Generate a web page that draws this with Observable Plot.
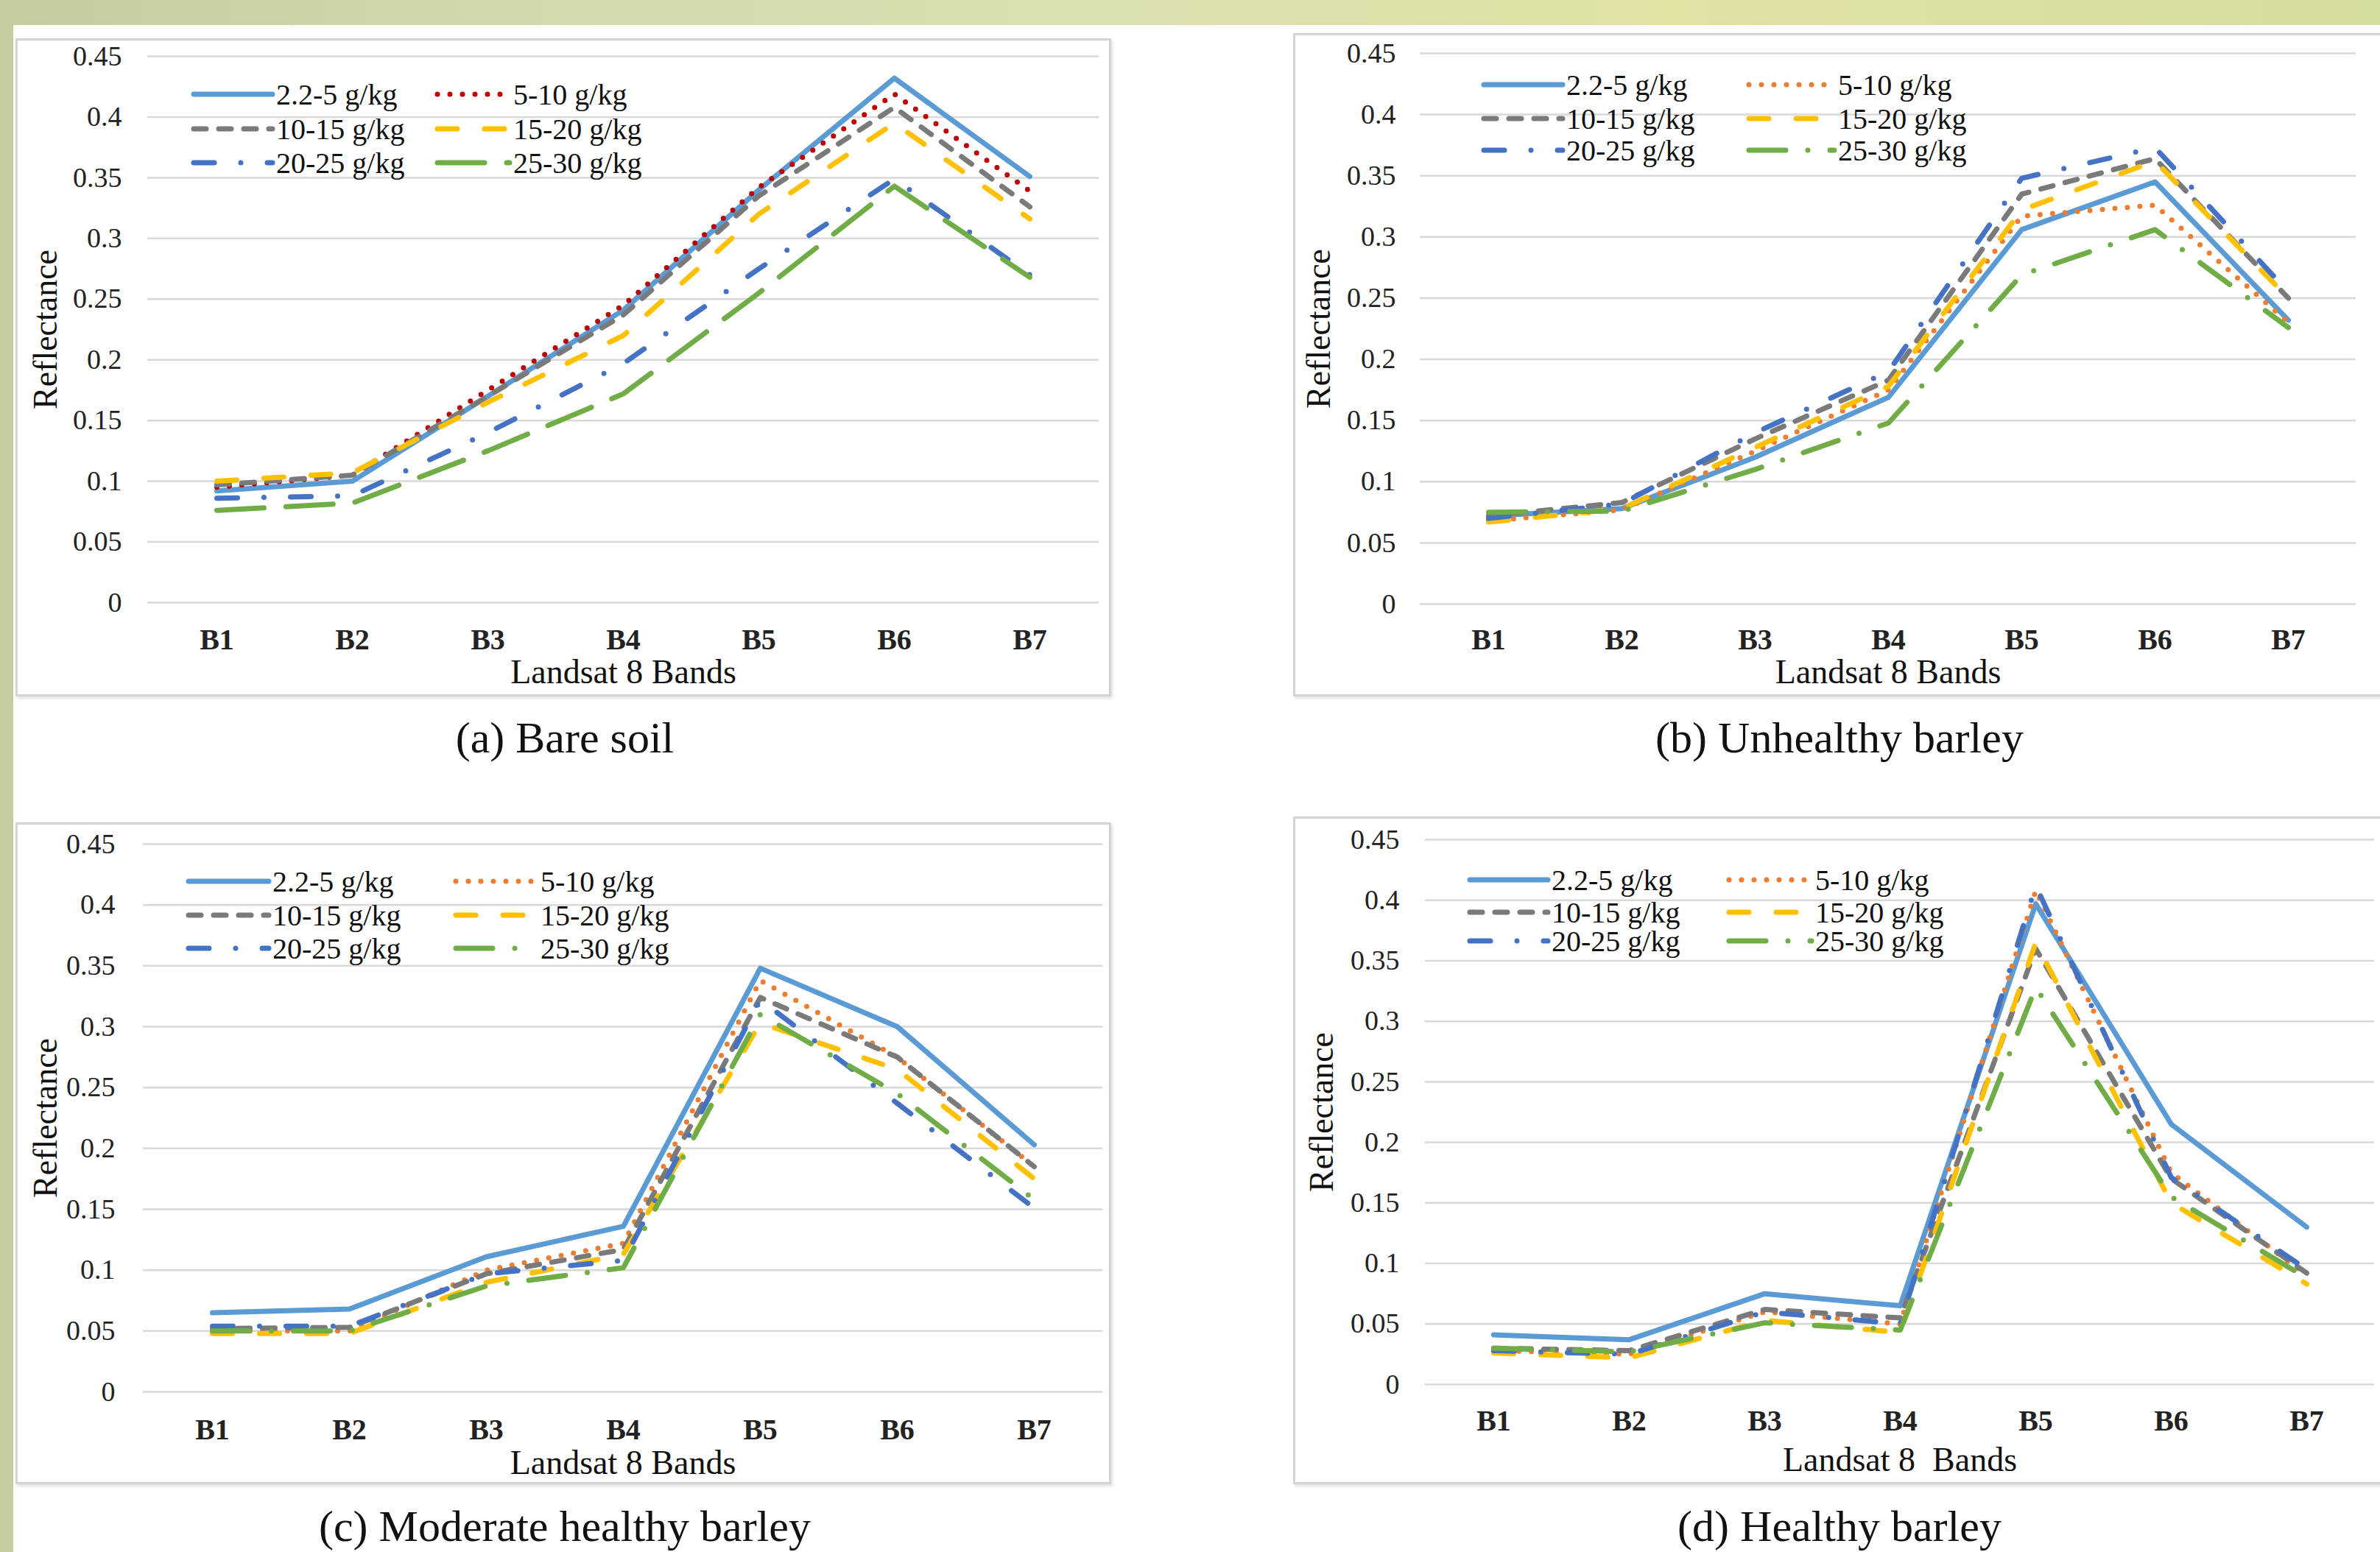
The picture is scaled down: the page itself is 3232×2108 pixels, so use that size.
<!DOCTYPE html>
<html>
<head>
<meta charset="utf-8">
<script src="https://cdn.jsdelivr.net/npm/d3@7"></script>
<script src="https://cdn.jsdelivr.net/npm/@observablehq/plot@0.6"></script>
<style>
html, body { margin: 0; padding: 0; }
body {
  width: 3232px; height: 2108px; overflow: hidden; position: relative;
  background: linear-gradient(90deg, #c6cb9f 0%, #d3d7a9 20%, #dcdfb0 45%, #e0e3a4 70%, #d6dba0 100%);
  font-family: "Liberation Serif", "Times New Roman", serif;
}
#sheet { position: absolute; left: 18px; top: 34px; right: 0; bottom: 0; background: #fff; }
.panel { position: absolute; background: #fff; }
.panel .frame {
  position: absolute; inset: 0; border: 3px solid #d4d4d4; box-sizing: border-box;
  box-shadow: 2px 3px 4px rgba(0,0,0,0.12); pointer-events: none;
}
.panel svg { position: absolute; left: 0; top: 0; }
.caption {
  position: absolute; font-size: 60px; line-height: 60px; white-space: nowrap;
  transform: translateX(-50%); color: #111;
}
.legend-item {
  position: absolute; display: flex; align-items: center; height: 46px;
  font-size: 40px; color: #111; white-space: nowrap;
}
.legend-item svg { display: block; }
</style>
</head>
<body>
<div id="sheet"></div>
<script>
// ---------- data ----------
const bands = ["B1", "B2", "B3", "B4", "B5", "B6", "B7"];
const series = ["2.2-5 g/kg", "5-10 g/kg", "10-15 g/kg", "15-20 g/kg", "20-25 g/kg", "25-30 g/kg"];
const yTicks = [0, 0.05, 0.1, 0.15, 0.2, 0.25, 0.3, 0.35, 0.4, 0.45];

// (a) Bare soil — one row per series, one value per band
const bareSoil = [
  [0.092, 0.100, 0.170, 0.241, 0.340, 0.432, 0.351],
  [0.095, 0.105, 0.175, 0.245, 0.342, 0.419, 0.339],
  [0.097, 0.105, 0.170, 0.237, 0.335, 0.408, 0.326],
  [0.100, 0.107, 0.165, 0.220, 0.320, 0.395, 0.316],
  [0.086, 0.088, 0.140, 0.197, 0.275, 0.349, 0.270],
  [0.076, 0.082, 0.125, 0.172, 0.255, 0.343, 0.268]
];
// (b) Unhealthy barley
const unhealthyBarley = [
  [0.072, 0.078, 0.120, 0.169, 0.306, 0.345, 0.232],
  [0.068, 0.077, 0.125, 0.175, 0.317, 0.326, 0.230],
  [0.072, 0.083, 0.135, 0.183, 0.335, 0.364, 0.250],
  [0.067, 0.078, 0.128, 0.178, 0.322, 0.362, 0.250],
  [0.070, 0.082, 0.140, 0.190, 0.348, 0.373, 0.255],
  [0.075, 0.076, 0.110, 0.148, 0.269, 0.306, 0.226]
];
// (c) Moderate healthy barley
const moderateBarley = [
  [0.065, 0.068, 0.111, 0.136, 0.348, 0.300, 0.203],
  [0.050, 0.050, 0.100, 0.122, 0.338, 0.275, 0.185],
  [0.052, 0.053, 0.097, 0.117, 0.324, 0.275, 0.185],
  [0.048, 0.048, 0.090, 0.113, 0.303, 0.265, 0.175],
  [0.054, 0.054, 0.097, 0.108, 0.322, 0.237, 0.151],
  [0.050, 0.050, 0.087, 0.102, 0.310, 0.245, 0.158]
];
// (d) Healthy barley
const healthyBarley = [
  [0.041, 0.037, 0.075, 0.065, 0.397, 0.215, 0.130],
  [0.028, 0.025, 0.060, 0.050, 0.408, 0.175, 0.090],
  [0.030, 0.028, 0.062, 0.055, 0.360, 0.170, 0.092],
  [0.026, 0.022, 0.053, 0.043, 0.365, 0.150, 0.083],
  [0.028, 0.025, 0.060, 0.050, 0.412, 0.171, 0.095],
  [0.030, 0.027, 0.051, 0.045, 0.328, 0.155, 0.088]
];

// ---------- styles ----------
const colorsA = ["#5b9bd5", "#c00000", "#7a7a7a", "#ffc000", "#4472c4", "#70ad47"];
const colorsB = ["#5b9bd5", "#ed7d31", "#7a7a7a", "#ffc000", "#4472c4", "#70ad47"];
const dashesA = [null, "0 17", "17 17", "27 37", "28 36 0 36", "64 30"];
const dashesB = [null, "0 17", "17 17", "27 37", "28 36 0 36", "50 30 0 30"];

// ---------- layout ----------
const panels = [
  { values: bareSoil, caption: "(a) Bare soil", xlabel: "Landsat 8 Bands",
    box: {left: 21, top: 52, width: 1488, height: 894},
    m: {left: 179, right: 17, top: 24, bottom: 128}, xPad: 35, yPad: 35, ylabDx: -138, xlabDy: 95,
    colors: colorsA, dashes: dashesA,
    cap: {x: 767, y: 1002},
    leg: {c1: 258, c2: 589, w1: 117, w2: 108, rows: [128, 175, 221]} },
  { values: unhealthyBarley, caption: "(b) Unhealthy barley", xlabel: "Landsat 8 Bands",
    box: {left: 1756, top: 45, width: 1490, height: 901},
    m: {left: 172, right: 47, top: 27, bottom: 126}, xPad: 33, yPad: 33, ylabDx: -137, xlabDy: 93,
    colors: colorsB, dashes: dashesB,
    cap: {x: 2498, y: 1002},
    leg: {c1: 2010, c2: 2370, w1: 117, w2: 126, rows: [115, 161, 204]} },
  { values: moderateBarley, caption: "(c) Moderate healthy barley", xlabel: "Landsat 8 Bands",
    box: {left: 21, top: 1117, width: 1488, height: 899},
    m: {left: 173, right: 12, top: 29, bottom: 126}, xPad: 36, yPad: 38, ylabDx: -132, xlabDy: 97,
    colors: colorsB, dashes: dashesB,
    cap: {x: 767, y: 2073},
    leg: {c1: 251, c2: 614, w1: 119, w2: 120, rows: [1197, 1243, 1288]} },
  { values: healthyBarley, caption: "(d) Healthy barley", xlabel: "Landsat 8\u00a0 Bands",
    box: {left: 1756, top: 1109, width: 1490, height: 907},
    m: {left: 179, right: 22, top: 31, bottom: 136}, xPad: 34, yPad: 35, ylabDx: -140, xlabDy: 103,
    colors: colorsB, dashes: dashesB,
    cap: {x: 2498, y: 2073},
    leg: {c1: 1991, c2: 2343, w1: 116, w2: 122, rows: [1195, 1239, 1278]} }
];

const LW = 7;

function swatch(color, dash, w) {
  const ns = "http://www.w3.org/2000/svg";
  const svg = document.createElementNS(ns, "svg");
  svg.setAttribute("width", w);
  svg.setAttribute("height", 46);
  const line = document.createElementNS(ns, "line");
  line.setAttribute("x1", 5); line.setAttribute("x2", w - 5);
  line.setAttribute("y1", 23); line.setAttribute("y2", 23);
  line.setAttribute("stroke", color);
  line.setAttribute("stroke-width", LW);
  line.setAttribute("stroke-linecap", "round");
  if (dash) line.setAttribute("stroke-dasharray", dash);
  svg.appendChild(line);
  return svg;
}

for (const p of panels) {
  const rows = [];
  p.values.forEach((vals, i) => vals.forEach((v, j) => rows.push({band: bands[j], series: series[i], value: v})));

  const lines = series.map((s, i) => Plot.lineY(rows.filter(r => r.series === s), {
    x: "band", y: "value",
    stroke: p.colors[i], strokeWidth: LW,
    strokeDasharray: p.dashes[i] || undefined,
    strokeLinecap: "round", strokeLinejoin: "round"
  }));

  const chart = Plot.plot({
    width: p.box.width, height: p.box.height,
    marginLeft: p.m.left, marginRight: p.m.right, marginTop: p.m.top, marginBottom: p.m.bottom,
    style: {fontFamily: "Liberation Serif, Times New Roman, serif", background: "transparent", color: "#222"},
    x: {type: "point", domain: bands, padding: 0.5},
    y: {domain: [0, 0.45]},
    marks: [
      Plot.gridY(yTicks, {stroke: "#d9d9d9", strokeOpacity: 1, strokeWidth: 2.5}),
      Plot.axisY(yTicks, {tickSize: 0, tickPadding: p.yPad, fontSize: 38, label: null, tickFormat: d => String(d)}),
      Plot.axisX({tickSize: 0, tickPadding: p.xPad, fontSize: 40, fontWeight: "bold", label: null}),
      ...lines,
      Plot.text([p.xlabel], {frameAnchor: "bottom", lineAnchor: "middle", textAnchor: "middle", dy: p.xlabDy, fontSize: 46, fill: "#111"}),
      Plot.text(["Reflectance"], {frameAnchor: "left", lineAnchor: "middle", textAnchor: "middle", dx: p.ylabDx, rotate: -90, fontSize: 46, fill: "#111"})
    ]
  });

  const div = document.createElement("div");
  div.className = "panel";
  Object.assign(div.style, {left: p.box.left + "px", top: p.box.top + "px", width: p.box.width + "px", height: p.box.height + "px"});
  div.appendChild(chart);
  const frame = document.createElement("div");
  frame.className = "frame";
  div.appendChild(frame);
  document.body.appendChild(div);

  // legend (3 rows x 2 columns)
  series.forEach((s, i) => {
    const col = i % 2, row = Math.floor(i / 2);
    const item = document.createElement("div");
    item.className = "legend-item";
    item.style.left = (col === 0 ? p.leg.c1 : p.leg.c2) + "px";
    item.style.top = (p.leg.rows[row] - 23) + "px";
    item.appendChild(swatch(p.colors[i], p.dashes[i], col === 0 ? p.leg.w1 : p.leg.w2));
    const t = document.createElement("span");
    t.textContent = s;
    item.appendChild(t);
    document.body.appendChild(item);
  });

  const cap = document.createElement("div");
  cap.className = "caption";
  cap.style.left = p.cap.x + "px";
  cap.style.top = (p.cap.y - 30) + "px";
  cap.textContent = p.caption;
  document.body.appendChild(cap);
}
</script>
</body>
</html>
